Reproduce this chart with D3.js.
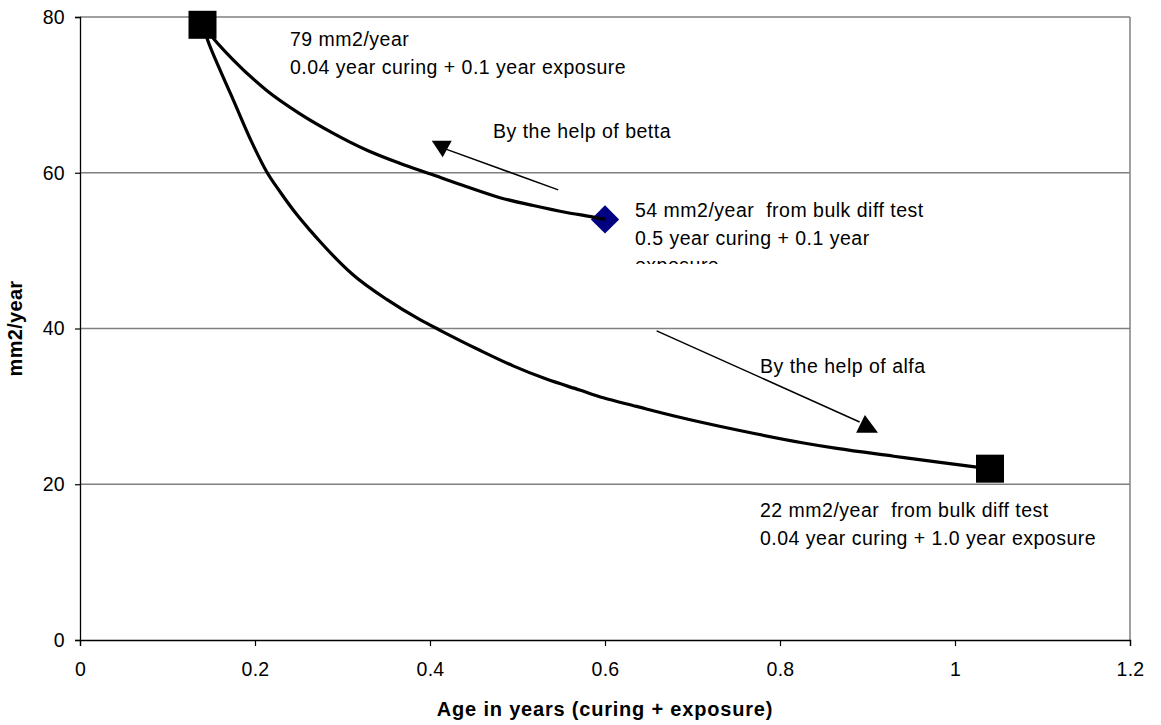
<!DOCTYPE html>
<html><head><meta charset="utf-8">
<script src="https://cdn.jsdelivr.net/npm/d3@7"></script>
<style>
body{margin:0;background:#fff;}
svg{display:block;font-family:Arial,"Liberation Sans",sans-serif;}
</style></head><body>
<svg id="chart" width="1161" height="725"></svg>
<script>
// ---- data ----
const xTicks = [0, 0.2, 0.4, 0.6, 0.8, 1, 1.2];
const yTicks = [0, 20, 40, 60, 80];
const xTickLabels = ["0", "0.2", "0.4", "0.6", "0.8", "1", "1.2"];
const yTickLabels = ["0", "20", "40", "60", "80"];

// lower curve: "By the help of alfa"
const alfaX = [0.14, 0.145, 0.16, 0.175, 0.196, 0.213, 0.229, 0.248, 0.263, 0.274, 0.312, 0.351, 0.389, 0.411, 0.457, 0.495, 0.533, 0.571, 0.598, 0.636, 0.678, 0.754, 0.827, 0.865, 0.93, 0.983, 1.025, 1.04];
const alfaY = [79, 77.3, 73.2, 69.4, 64.0, 60.2, 57.5, 54.6, 52.6, 51.2, 46.9, 43.7, 41.1, 39.8, 37.2, 35.2, 33.5, 32.1, 31.1, 30.0, 28.8, 26.9, 25.3, 24.6, 23.6, 22.8, 22.2, 22];

// upper curve: "By the help of betta"
const bettaX = [0.14, 0.152, 0.175, 0.213, 0.251, 0.289, 0.328, 0.366, 0.404, 0.442, 0.48, 0.518, 0.556, 0.587, 0.6];
const bettaY = [79, 77.3, 74.5, 70.6, 67.6, 65.1, 62.9, 61.2, 59.7, 58.2, 56.8, 55.8, 54.9, 54.3, 54.0];

// marker points
const squareX = [0.14, 1.04];
const squareY = [79, 22];
const diamondX = [0.6];
const diamondY = [54];

// annotation arrows (data units)
const arrowFromX = [0.5466, 0.659];
const arrowFromY = [57.8, 39.7];
const arrowToX = [0.419, 0.891];
const arrowToY = [63.0, 28.0];
const arrowHeadX = [[0.402, 0.4248, 0.4145], [0.887, 0.912, 0.897]];
const arrowHeadY = [[64.1, 64.1, 62.0], [26.6, 26.6, 28.9]];

const xTitle = "Age in years (curing + exposure)";
const yTitle = "mm2/year";

// ---- layout ----
const svg = d3.select("#chart");
const L = 80, R = 1130, T = 17, B = 640;
const x = d3.scaleLinear().domain([0, 1.2]).range([L, R]);
const y = d3.scaleLinear().domain([0, 80]).range([B, T]);

// gridlines
svg.append("g").selectAll("line").data(yTicks.filter(d => d > 0)).join("line")
  .attr("x1", L).attr("x2", R).attr("y1", d => y(d)).attr("y2", d => y(d))
  .attr("stroke", "#808080").attr("stroke-width", 1.3);
// right border
svg.append("line").attr("x1", R).attr("x2", R).attr("y1", T).attr("y2", B)
  .attr("stroke", "#808080").attr("stroke-width", 1.5);

// axes
const xAxis = d3.axisBottom(x).tickValues(xTicks).tickFormat((d, i) => xTickLabels[i]).tickSizeOuter(0).tickSize(6).tickPadding(16);
const gx = svg.append("g").attr("transform", `translate(0,${B})`).call(xAxis);
const yAxis = d3.axisLeft(y).tickValues(yTicks).tickFormat((d, i) => yTickLabels[i]).tickSizeOuter(0).tickSize(5).tickPadding(10);
const gy = svg.append("g").attr("transform", `translate(${L},0)`).call(yAxis);
[gx, gy].forEach(g => {
  g.select(".domain").attr("stroke", "#000").attr("stroke-width", 1.3);
  g.selectAll(".tick line").attr("stroke", "#000").attr("stroke-width", 1.2);
  g.selectAll(".tick text").attr("fill", "#000").style("font-size", "19.5px").style("letter-spacing", "0.3px").style("font-family", "Arial, 'Liberation Sans', sans-serif");
});
gx.selectAll(".tick text").attr("dy", "0.71em");

// axis titles
svg.append("text").attr("x", (L + R) / 2).attr("y", 716).attr("text-anchor", "middle")
  .style("font-size", "20px").style("font-weight", "bold").style("letter-spacing", "0.8px").text(xTitle);
svg.append("text").attr("transform", `translate(22,${(T + B) / 2}) rotate(-90)`).attr("text-anchor", "middle")
  .style("font-size", "20px").style("font-weight", "bold").style("letter-spacing", "0.3px").text(yTitle);

// diamond (under curve)
svg.append("g").selectAll("path").data(diamondX.map((d, i) => [d, diamondY[i]])).join("path")
  .attr("d", d3.symbol().type(d3.symbolSquare).size(400))
  .attr("transform", d => `translate(${x(d[0])},${y(d[1])}) rotate(45)`)
  .attr("fill", "#000080");

// curves
const line = d3.line().x(d => x(d[0])).y(d => y(d[1])).curve(d3.curveMonotoneX);
svg.append("path").datum(alfaX.map((d, i) => [d, alfaY[i]])).attr("d", line)
  .attr("fill", "none").attr("stroke", "#000").attr("stroke-width", 3.2).attr("stroke-linejoin", "round");
svg.append("path").datum(bettaX.map((d, i) => [d, bettaY[i]])).attr("d", line)
  .attr("fill", "none").attr("stroke", "#000").attr("stroke-width", 3.2).attr("stroke-linejoin", "round");

// squares
svg.append("g").selectAll("rect").data(squareX.map((d, i) => [d, squareY[i]])).join("rect")
  .attr("x", d => x(d[0]) - 14).attr("y", d => y(d[1]) - 14).attr("width", 28).attr("height", 28)
  .attr("fill", "#000");

// arrows
arrowFromX.forEach((fx, i) => {
  svg.append("line").attr("x1", x(fx)).attr("y1", y(arrowFromY[i]))
    .attr("x2", x(arrowToX[i])).attr("y2", y(arrowToY[i]))
    .attr("stroke", "#000").attr("stroke-width", 1.5);
  svg.append("polygon")
    .attr("points", arrowHeadX[i].map((hx, j) => `${x(hx)},${y(arrowHeadY[i][j])}`).join(" "))
    .attr("fill", "#000");
});

// annotation texts
function label(px, py, lines, clipBottom) {
  const g = svg.append("g");
  if (clipBottom) {
    const id = "clip" + Math.round(px) + Math.round(py);
    svg.append("clipPath").attr("id", id).append("rect")
      .attr("x", px - 5).attr("y", py - 25).attr("width", 500).attr("height", clipBottom - (py - 25));
    g.attr("clip-path", `url(#${id})`);
  }
  lines.forEach((t, i) => {
    g.append("text").attr("x", px).attr("y", py + i * 27.5)
      .style("font-size", "19.5px").style("letter-spacing", "0.5px").attr("fill", "#000")
      .attr("xml:space", "preserve").text(t);
  });
}
label(290, 46, ["79 mm2/year", "0.04 year curing + 0.1 year exposure"]);
label(493, 138, ["By the help of betta"]);
label(635, 217, ["54 mm2/year  from bulk diff test", "0.5 year curing + 0.1 year", "exposure"], 264);
label(760, 373, ["By the help of alfa"]);
label(760, 517, ["22 mm2/year  from bulk diff test", "0.04 year curing + 1.0 year exposure"]);
</script>
</body></html>
